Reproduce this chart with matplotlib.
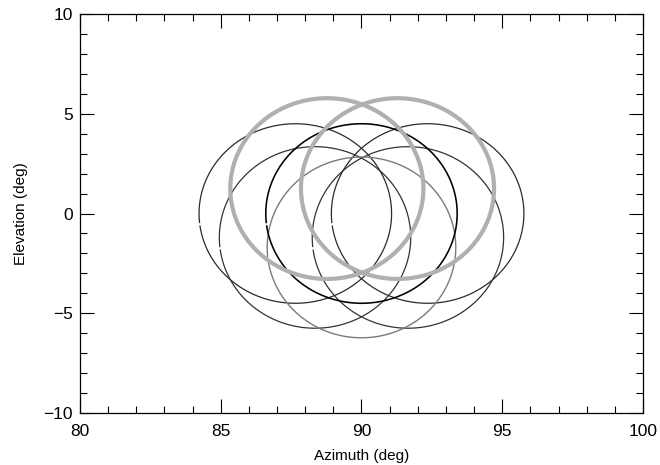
import numpy as np
import matplotlib.pyplot as plt
from matplotlib.ticker import MultipleLocator

plt.rcParams['font.family'] = ['Liberation Sans', 'DejaVu Sans']

# beam footprints: centre azimuth, centre elevation, half widths (deg)
az_c = [87.65, 92.35, 88.35, 91.65, 90.0, 90.0, 88.77, 91.28]
el_c = [0.0, 0.0, -1.2, -1.2, -1.7, 0.0, 1.25, 1.25]
half_az = [3.42, 3.42, 3.4, 3.4, 3.35, 3.4, 3.43, 3.43]
half_el = [4.5, 4.5, 4.55, 4.55, 4.53, 4.5, 4.53, 4.53]
colors = ['#2a2a2a', '#2a2a2a', '#333333', '#333333', '#7a7a7a', '#000000', '#b0b0b0', '#b0b0b0']
widths = [0.9, 0.9, 0.9, 0.9, 1.0, 1.15, 3.0, 3.0]

fig = plt.figure(figsize=(6.6, 4.65), dpi=100)
ax = fig.add_axes([0.1212, 0.1118, 0.8530, 0.8581])

# small break on the left side where each trace starts
t = np.linspace(np.pi + 0.14, np.pi + 0.10 + 2 * np.pi, 400)
for x0, y0, a, b, c, w in zip(az_c, el_c, half_az, half_el, colors, widths):
    ax.plot(x0 + a * np.cos(t), y0 + b * np.sin(t), color=c, lw=w)

ax.set_xlim(80, 100)
ax.set_ylim(-10, 10)
ax.xaxis.set_major_locator(MultipleLocator(5))
ax.xaxis.set_minor_locator(MultipleLocator(1))
ax.yaxis.set_major_locator(MultipleLocator(5))
ax.yaxis.set_minor_locator(MultipleLocator(1))
ax.tick_params(which='both', direction='in', top=True, right=True, width=0.8, labelsize=12.5)
ax.tick_params(which='major', length=10)
ax.tick_params(axis='x', which='major', pad=8)
ax.tick_params(axis='y', which='major', pad=5)
ax.tick_params(which='minor', length=5)
for s in ax.spines.values():
    s.set_linewidth(0.9)

ax.set_xlabel('Azimuth (deg)', fontsize=11, labelpad=7)
ax.set_ylabel('Elevation (deg)', fontsize=11, labelpad=11)

fig.savefig('out.png', dpi=100)
